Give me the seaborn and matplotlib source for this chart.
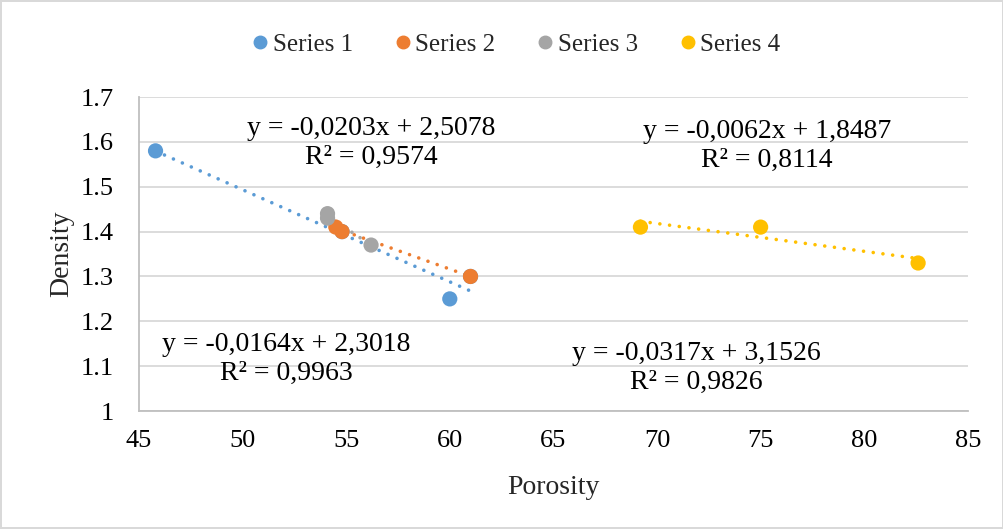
import numpy as np
import pandas as pd
import matplotlib
matplotlib.use("Agg")
import matplotlib.pyplot as plt
import seaborn as sns

series_names = ["Series 1", "Series 2", "Series 3", "Series 4"]
s1_x = [45.8, 54.8, 60.0, 61.0]
s1_y = [1.58, 1.40, 1.25, 1.30]
s2_x = [54.5, 54.8, 61.0]
s2_y = [1.41, 1.40, 1.30]
s3_x = [54.1, 54.1, 56.2]
s3_y = [1.44, 1.43, 1.37]
s4_x = [69.2, 75.0, 82.6]
s4_y = [1.41, 1.41, 1.33]
colors = ["#5B9BD5", "#ED7D31", "#A5A5A5", "#FFC000"]
eq_texts = [
    "y = -0,0203x + 2,5078\nR² = 0,9574",
    "y = -0,0164x + 2,3018\nR² = 0,9963",
    "y = -0,0317x + 3,1526\nR² = 0,9826",
    "y = -0,0062x + 1,8487\nR² = 0,8114",
]
eq_pos = [(56.2, 1.597), (52.1, 1.116), (71.9, 1.096), (75.3, 1.591)]
x_ticks = [45, 50, 55, 60, 65, 70, 75, 80, 85]
y_ticks = [1, 1.1, 1.2, 1.3, 1.4, 1.5, 1.6, 1.7]
y_ticklabels = ["1", "1.1", "1.2", "1.3", "1.4", "1.5", "1.6", "1.7"]

xs = [s1_x, s2_x, s3_x, s4_x]
ys = [s1_y, s2_y, s3_y, s4_y]
df = pd.concat([pd.DataFrame({"Porosity": x, "Density": y, "Series": n})
                for x, y, n in zip(xs, ys, series_names)], ignore_index=True)

sns.set_theme(style="white")
plt.rcParams["font.family"] = ["Liberation Serif", "DejaVu Serif"]

fig = plt.figure(figsize=(10.04, 5.29), dpi=100)
fig.patch.set_edgecolor("#D9D9D9")
fig.patch.set_linewidth(1.5)
ax = fig.add_axes([0.1384, 0.223, 0.8256, 0.5936])

for i, n in enumerate(series_names):
    sub = df[df["Series"] == n]
    sns.regplot(data=sub, x="Porosity", y="Density", ax=ax, scatter=False, ci=None,
                truncate=True,
                line_kws=dict(color=colors[i], linestyle=(0, (0.01, 2.7)), linewidth=2.6,
                              dash_capstyle="round"))

sns.scatterplot(data=df, x="Porosity", y="Density", hue="Series", palette=colors,
                hue_order=series_names, s=120, edgecolor="none", ax=ax, zorder=5,
                legend=False)

for t, (px, py) in zip(eq_texts, eq_pos):
    ax.text(px, py, t, ha="center", va="center", fontsize=20, color="black",
            linespacing=1.2)

ax.set_xlim(45, 85)
ax.set_ylim(1, 1.7)
ax.set_xticks(x_ticks)
ax.set_xticklabels([str(v) for v in x_ticks])
ax.set_yticks(y_ticks)
ax.set_yticklabels(y_ticklabels)
ax.tick_params(axis="both", labelsize=19, length=0, colors="black")
ax.tick_params(axis="x", pad=14)
ax.tick_params(axis="y", pad=18)
ax.yaxis.grid(True, color="#D9D9D9", linewidth=1.3)
ax.xaxis.grid(False)
for s in ["top", "right"]:
    ax.spines[s].set_visible(False)
for s in ["left", "bottom"]:
    ax.spines[s].set_color("#BFBFBF")
    ax.spines[s].set_linewidth(1.3)
ax.set_xlabel("Porosity", fontsize=20, labelpad=16)
ax.set_ylabel("Density", fontsize=20, labelpad=5)

handles = [plt.Line2D([], [], marker="o", linestyle="none", color=c, markersize=9)
           for c in colors]
fig.legend(handles, series_names, loc="center", bbox_to_anchor=(0.512, 0.915), ncol=4,
           frameon=False, fontsize=18, handletextpad=0.0, columnspacing=1.5,
           handlelength=1.0)

fig.savefig("out.png", dpi=100)
